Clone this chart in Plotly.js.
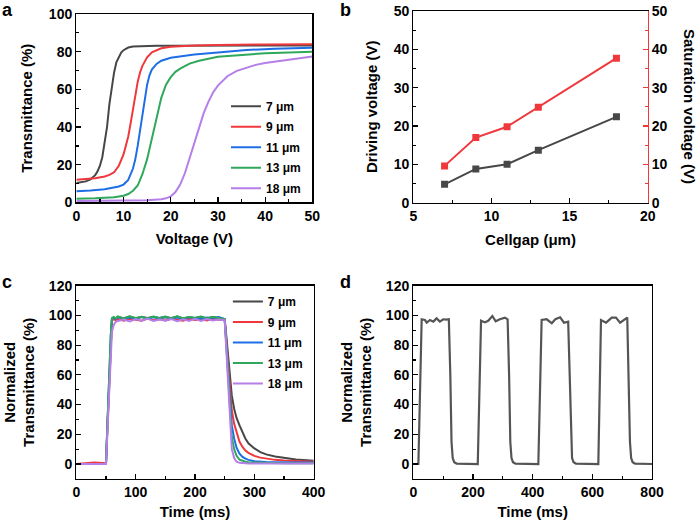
<!DOCTYPE html>
<html><head><meta charset="utf-8">
<script src="https://cdn.plot.ly/plotly-3.0.1.min.js"></script>
<style>html,body{margin:0;padding:0;background:#fff}#chart{width:699px;height:524px}</style>
</head><body><div id="chart"></div><script>
// ---------- Panel a: transmittance vs voltage ----------
const labelsA = ['7 \u03bcm', '9 \u03bcm', '11 \u03bcm', '13 \u03bcm', '18 \u03bcm'];
const v7  = [0, 1, 2, 3, 4, 4.5, 5, 5.5, 6, 6.5, 7, 7.5, 8, 8.5, 9, 9.5, 10, 11, 12, 14, 17, 20, 30, 40, 50];
const t7  = [10.3, 10.6, 11.2, 12.3, 14.5, 16.5, 19.5, 24, 31, 40, 52, 62, 69, 74.5, 77.5, 79.5, 80.8, 82.2, 82.8, 83.1, 83.2, 83.2, 83.1, 83.2, 83.3];
const v9  = [0, 2, 4, 6, 7, 8, 9, 10, 10.5, 11, 11.5, 12, 12.5, 13, 13.5, 14, 15, 16, 18, 20, 25, 30, 40, 50];
const t9  = [12, 12.3, 12.8, 13.8, 14.6, 16, 19.5, 25.5, 30, 35, 42, 50, 57.5, 64, 69, 72.5, 77, 79.7, 81.8, 82.6, 83.3, 83.6, 83.8, 84];
const v11 = [0, 3, 6, 8, 9, 10, 11, 12, 12.5, 13, 13.5, 14, 14.5, 15, 15.5, 16, 17, 18, 20, 22, 25, 30, 36, 42, 50];
const t11 = [6, 6.3, 7, 7.8, 8.5, 9.5, 12, 18, 23, 30, 38, 46, 54.5, 62.5, 67.5, 70.5, 73.5, 75.2, 76.8, 77.6, 78.5, 79.6, 80.9, 81.5, 82.1];
const v13 = [0, 4, 8, 10, 11, 12, 13, 14, 15, 16, 17, 18, 19, 20, 21, 22, 24, 26, 30, 35, 40, 50];
const t13 = [2, 2.2, 2.8, 3.6, 4.5, 6.2, 9, 15, 23, 34, 45.5, 55.5, 62.5, 66.5, 69.3, 71, 73.7, 75.2, 77.3, 78.4, 79.2, 80];
const v18 = [0, 5, 10, 15, 18, 19, 20, 21, 22, 23, 24, 25, 26, 27, 28, 29, 30, 32, 34, 36, 38, 40, 44, 50];
const t18 = [0.8, 0.9, 1, 1.2, 1.7, 2.2, 3.2, 5.5, 9.5, 15.5, 23.5, 31.5, 40, 47.5, 53.5, 58.5, 62, 67, 69.8, 71.6, 73, 74, 75.5, 77.4];

// ---------- Panel b: driving / saturation voltage vs cell gap ----------
const cellgap = [7, 9, 11, 13, 18];
const drivingV = [4.8, 8.8, 10, 13.7, 22.4];
const saturationV = [9.6, 17, 19.8, 24.9, 37.7];

// ---------- Panel c: normalized response ----------
const timeC = [0, 30, 50, 52, 55, 58, 60, 63, 66, 70, 80, 90, 100, 110, 120, 130, 140, 150, 160, 170, 180, 190, 200, 210, 220, 230, 240, 250, 253, 256, 259, 262, 266, 270, 275, 280, 285, 290, 300, 310, 320, 335, 350, 370, 400];
const c7  = [0, 0, 0, 22, 55, 85, 97.5, 98.6, 97.9, 98.8, 98.1, 99.2, 97.8, 98.9, 98.3, 99.1, 97.9, 98.7, 98.2, 99.2, 97.8, 98.8, 98.1, 99, 98, 98.9, 98.3, 97.5, 85, 70, 57, 46, 37, 31, 26, 21, 17, 14, 10.5, 8, 6.5, 5, 4, 3, 2.2];
const c9  = [0, 1, 0.5, 21, 54, 84, 96.5, 97.5, 96.8, 97.6, 96.5, 97.8, 97.2, 96.4, 97.9, 96.8, 97.5, 96.6, 97.8, 97, 96.5, 97.7, 96.9, 97.4, 96.6, 97.8, 97.1, 97, 82, 65, 48, 36, 27, 21, 15, 11.5, 9, 7.5, 5.5, 4.3, 3.5, 2.8, 2.3, 1.9, 1.6];
const c11 = [0, 0, 0, 22, 56, 86, 97.8, 98.5, 97.6, 98.9, 97.7, 98.6, 98, 99, 97.6, 98.7, 98.2, 99.1, 97.8, 98.5, 97.9, 98.8, 98.1, 97.7, 98.6, 98.2, 98.9, 97.5, 80, 60, 40, 26, 17, 11, 7, 4.8, 3.6, 2.8, 1.9, 1.5, 1.3, 1.2, 1.1, 1, 1];
const c13 = [0, 0, 0, 23, 57, 87, 98.2, 99, 98.1, 99.3, 98, 99.4, 98.3, 99.1, 97.9, 99.3, 98.2, 99.2, 98, 99.4, 98.1, 99, 98.4, 99.3, 97.9, 99.1, 98.3, 97.5, 78, 55, 32, 18, 10, 5.5, 3, 2, 1.5, 1.2, 1, 0.8, 0.7, 0.7, 0.6, 0.6, 0.6];
const c18 = [0, 0, 0, 18, 48, 78, 89, 93.5, 95.5, 96.3, 97.2, 96, 97.5, 96.4, 97.8, 96.2, 97.3, 96.5, 97.6, 96.1, 97.4, 96.3, 97.7, 96.2, 97.5, 96.6, 97.3, 96.8, 75, 48, 25, 10, 4, 1.5, 0.8, 0.5, 0.4, 0.3, 0.3, 0.3, 0.3, 0.3, 0.3, 0.3, 0.3];

// ---------- Panel d: repeated switching ----------
const timeD = [0, 17, 28, 39, 45, 56, 67, 78, 89, 100, 110, 119, 124, 128, 132, 137, 145,
  216, 227, 240, 251, 265, 276, 290, 307, 316, 321, 325, 329, 334, 342,
  419, 430, 447, 464, 476, 492, 505, 519, 524, 528, 532, 537, 545,
  620, 629, 646, 665, 679, 693, 717, 722, 726, 730, 735, 743, 800];
const valD = [0, 0, 97.4, 96.9, 95.1, 96.9, 95.8, 98, 95.8, 97.4, 97.2, 97.4, 60, 15, 4, 1.2, 0.3,
  0, 96.4, 95.3, 96.4, 99.6, 96, 97.4, 98.5, 97.4, 60, 15, 4, 1.2, 0.3,
  0, 96.9, 97.4, 94.7, 97.4, 98.7, 95.1, 95.8, 60, 15, 4, 1.2, 0.3,
  0, 96.9, 95.1, 98.5, 98.5, 95.1, 98.5, 60, 15, 4, 1.2, 0.3, 0];

const F = 'Liberation Sans, Arial, Helvetica, sans-serif';
const COL = ['#474747', '#f0383c', '#1e6ee6', '#2fa85c', '#b57ee8'];

const xsA = [v7, v9, v11, v13, v18], ysA = [t7, t9, t11, t13, t18];
const ysC = [c7, c9, c11, c13, c18];
const traces = [];
for (let i = 0; i < 5; i++) {
  traces.push({x: xsA[i], y: ysA[i], xaxis: 'x', yaxis: 'y', type: 'scatter', mode: 'lines',
    name: labelsA[i], line: {color: COL[i], width: 2}, legend: 'legend', legendgroup: 'a' + i});
}
traces.push({x: cellgap, y: drivingV, xaxis: 'x2', yaxis: 'y2', type: 'scatter', mode: 'lines+markers',
  line: {color: '#474747', width: 2}, marker: {symbol: 'square', size: 7, color: '#474747'}, showlegend: false, name: 'Driving'});
traces.push({x: cellgap, y: saturationV, xaxis: 'x2', yaxis: 'y3', type: 'scatter', mode: 'lines+markers',
  line: {color: '#f0383c', width: 2}, marker: {symbol: 'square', size: 7, color: '#f0383c'}, showlegend: false, name: 'Saturation'});
for (let i = 0; i < 5; i++) {
  traces.push({x: timeC, y: ysC[i], xaxis: 'x3', yaxis: 'y4', type: 'scatter', mode: 'lines',
    name: labelsA[i], line: {color: COL[i], width: 2}, legend: 'legend2', legendgroup: 'c' + i});
}
traces.push({x: timeD, y: valD, xaxis: 'x4', yaxis: 'y5', type: 'scatter', mode: 'lines',
  line: {color: '#555555', width: 2.2}, showlegend: false, name: 'Switching'});

function ax(extra, minorDtick, titleText, standoff, tcol) {
  const c = tcol || '#000';
  const o = {showline: true, linecolor: c, linewidth: 1.3, mirror: true, ticks: 'inside', ticklen: 5, tickwidth: 1.2,
    tickcolor: c, showgrid: false, zeroline: false, fixedrange: true,
    tickfont: {family: F, size: 14, weight: 700, color: '#000'},
    minor: {ticks: 'inside', ticklen: 3, tickwidth: 1.2, tickcolor: c, dtick: minorDtick, showgrid: false}};
  if (titleText) o.title = {text: titleText, standoff: standoff, font: {family: F, size: 15, weight: 700, color: '#000'}};
  return Object.assign(o, extra);
}

const layout = {
  width: 699, height: 524, margin: {l: 0, r: 0, t: 0, b: 0}, paper_bgcolor: '#fff', plot_bgcolor: '#fff',
  showlegend: true,
  xaxis: ax({domain: [0.1092, 0.4468], range: [0, 50], dtick: 10, anchor: 'y'}, 5, 'Voltage (V)', 11),
  yaxis: ax({domain: [0.6136, 0.9733], range: [0, 100], dtick: 20, anchor: 'x'}, 10, 'Transmittance (%)', 12),
  xaxis2: ax({domain: [0.5913, 0.9266], range: [5, 20], dtick: 5, anchor: 'y2'}, 2.5, 'Cellgap (\u03bcm)', 11),
  yaxis2: ax({domain: [0.6132, 0.979], range: [0, 50], dtick: 10, anchor: 'x2', mirror: false}, 5, 'Driving voltage (V)', 12),
  yaxis3: ax({domain: [0.6132, 0.979], range: [0, 50], dtick: 10, anchor: 'x2', overlaying: 'y2', side: 'right', mirror: false}, 5, null, 0, '#f0383c'),
  xaxis3: ax({domain: [0.1092, 0.4488], range: [0, 400], dtick: 100, anchor: 'y4'}, 50, 'Time (ms)', 7),
  yaxis4: ax({domain: [0.0861, 0.4548], range: [-10, 120], dtick: 20, tick0: 0, anchor: 'x3'}, 10, 'Normalized<br>Transmittance (%)', 10),
  xaxis4: ax({domain: [0.5913, 0.9328], range: [0, 800], dtick: 200, anchor: 'y5'}, 100, 'Time (ms)', 7),
  yaxis5: ax({domain: [0.0861, 0.4548], range: [-10, 120], dtick: 20, tick0: 0, anchor: 'x4'}, 10, 'Normalized<br>Transmittance (%)', 10),
  legend: {x: 0.3233, xanchor: 'left', y: 0.825, yanchor: 'top', bgcolor: 'rgba(0,0,0,0)', borderwidth: 0,
    font: {family: F, size: 12, weight: 700, color: '#000'}, itemwidth: 30, tracegroupgap: 1.5},
  legend2: {x: 0.326, xanchor: 'left', y: 0.4523, yanchor: 'top', bgcolor: 'rgba(0,0,0,0)', borderwidth: 0,
    font: {family: F, size: 12, weight: 700, color: '#000'}, itemwidth: 30, tracegroupgap: 1.5},
  annotations: [
    {text: 'a', x: 0, y: 0.981, xref: 'paper', yref: 'paper', xanchor: 'left', yanchor: 'middle', showarrow: false, font: {family: F, size: 18, weight: 700, color: '#000'}},
    {text: 'b', x: 0.4835, y: 0.981, xref: 'paper', yref: 'paper', xanchor: 'left', yanchor: 'middle', showarrow: false, font: {family: F, size: 18, weight: 700, color: '#000'}},
    {text: 'c', x: 0, y: 0.4618, xref: 'paper', yref: 'paper', xanchor: 'left', yanchor: 'middle', showarrow: false, font: {family: F, size: 18, weight: 700, color: '#000'}},
    {text: 'd', x: 0.4835, y: 0.4618, xref: 'paper', yref: 'paper', xanchor: 'left', yanchor: 'middle', showarrow: false, font: {family: F, size: 18, weight: 700, color: '#000'}},
    {text: 'Saturation voltage (V)', x: 0.9871, y: 0.7958, xref: 'paper', yref: 'paper', xanchor: 'center', yanchor: 'middle', textangle: 90, showarrow: false, font: {family: F, size: 15, weight: 700, color: '#000'}}
  ]
};

Plotly.newPlot('chart', traces, layout, {staticPlot: true, displayModeBar: false});
</script></body></html>
